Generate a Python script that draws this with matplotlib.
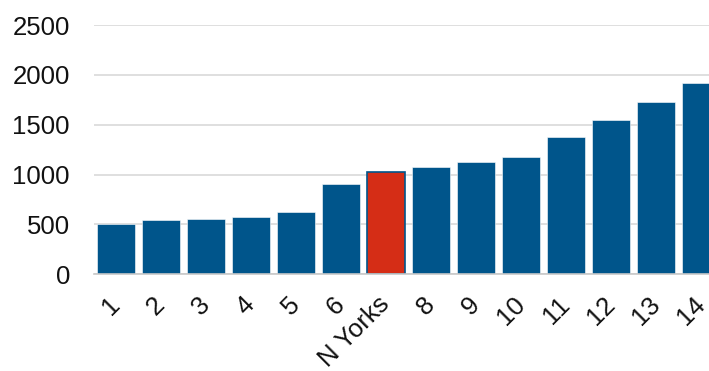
"""Bar chart: values by area, with N Yorks highlighted in red."""

import matplotlib
matplotlib.use("Agg")
import matplotlib.pyplot as plt

# ── Data ──
categories = ["1", "2", "3", "4", "5", "6", "N Yorks",
              "8", "9", "10", "11", "12", "13", "14"]
values = [500, 545, 557, 571, 624, 908, 1022,
          1072, 1125, 1175, 1376, 1546, 1729, 1917]
highlight = "N Yorks"
y_ticks = [0, 500, 1000, 1500, 2000, 2500]

BLUE = "#00558B"
RED = "#D52D16"
GRID = "#D9D9D9"

plt.rcParams["font.family"] = ["Liberation Sans", "DejaVu Sans"]

fig = plt.figure(figsize=(7.09, 3.71), dpi=100)
ax = fig.add_axes([0.1319, 0.2606, 0.8886, 0.672])

x = range(len(categories))
colors = [RED if c == highlight else BLUE for c in categories]
edges = [BLUE if c == highlight else "white" for c in categories]
lws = [1.2 if c == highlight else 0.4 for c in categories]
ax.bar(x, values, width=0.84, color=colors, edgecolor=edges,
       linewidth=lws, zorder=3)

ax.set_xlim(-0.5, len(categories) - 0.5)
ax.set_ylim(0, 2500)
ax.set_yticks(y_ticks)
ax.set_yticklabels([str(t) for t in y_ticks], fontsize=18.5, color="#111111")
ax.tick_params(axis="y", length=0, pad=17)

ax.set_xticks(list(x))
ax.set_xticklabels(categories, fontsize=18.5, color="#111111",
                   rotation=45, ha="right", va="center",
                   rotation_mode="anchor")
ax.tick_params(axis="x", length=0, pad=19)

ax.grid(axis="y", color=GRID, linewidth=1.2, zorder=0)
for side in ["top", "right", "left"]:
    ax.spines[side].set_visible(False)
ax.spines["bottom"].set_color("#C8C8C8")
ax.spines["bottom"].set_linewidth(1.2)
ax.spines["bottom"].set_zorder(4)

fig.savefig("out.png", dpi=100, facecolor="white")
